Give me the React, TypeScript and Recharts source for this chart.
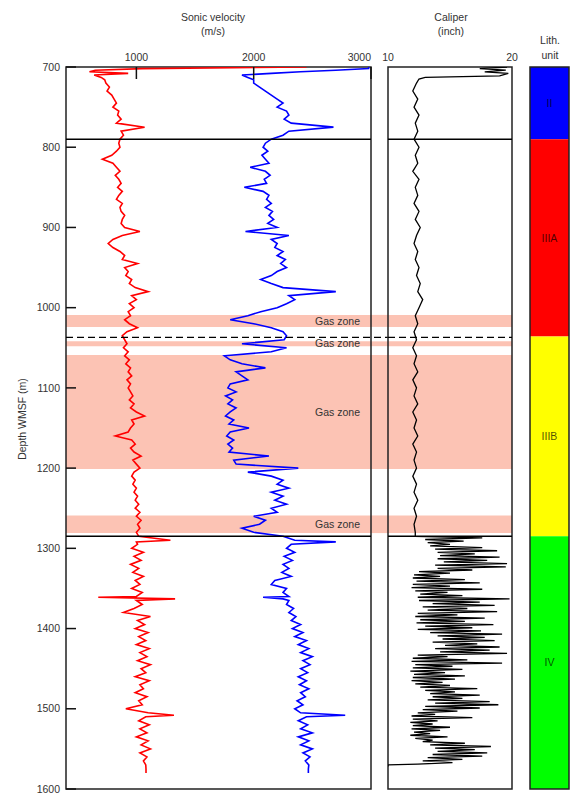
import React from "react";
import {
  ComposedChart,
  Line,
  XAxis,
  YAxis,
  ReferenceArea,
  ReferenceLine,
} from "recharts";

// sonic log samples (depth in m WMSF)
const depth = [
  700, 702, 704, 706, 708, 710, 713, 716, 720,
  725, 730, 735, 740, 745, 750, 755, 760, 765, 770,
  775, 780, 785, 790, 795, 800, 805, 810, 815, 820,
  825, 830, 835, 840, 845, 850, 855, 860, 865, 870,
  875, 880, 885, 890, 895, 900, 905, 910, 915, 920,
  925, 930, 935, 940, 945, 950, 955, 960, 965, 970,
  975, 980, 985, 990, 995, 1000, 1005, 1010, 1015, 1020,
  1025, 1030, 1035, 1040, 1045, 1050, 1055, 1060, 1065, 1070,
  1075, 1080, 1085, 1090, 1095, 1100, 1105, 1110, 1115, 1120,
  1125, 1130, 1135, 1140, 1145, 1150, 1155, 1160, 1165, 1170,
  1175, 1180, 1185, 1190, 1195, 1200, 1205, 1210, 1215, 1220,
  1225, 1230, 1235, 1240, 1245, 1250, 1255, 1260, 1265, 1270,
  1275, 1280, 1285,
  1290, 1292, 1295, 1300, 1305, 1310, 1315, 1320, 1325, 1330,
  1335, 1340, 1345, 1350, 1355, 1360, 1361, 1363, 1365, 1370,
  1375, 1380, 1385, 1390, 1395, 1400, 1405, 1410, 1415, 1420,
  1425, 1430, 1435, 1440, 1445, 1450, 1455, 1460, 1465, 1470,
  1475, 1480, 1485, 1490, 1495, 1500, 1505, 1508, 1510, 1515,
  1520, 1525, 1530, 1535, 1540, 1545, 1550, 1555, 1560, 1565,
  1570, 1575, 1580,
];

// red curve (m/s)
const vs = [
  2450, 1050, 650, 600, 930, 640, 700, 730, 740,
  770, 750, 790, 810, 830, 800, 850, 840, 870, 830,
  1070, 870, 890, 860, 850, 860, 830, 790, 710, 800,
  830, 860, 820, 850, 870, 840, 880, 850, 830, 880,
  860, 870, 900, 880, 870, 900, 1030, 880, 800, 760,
  800, 860, 900, 880, 1010, 900, 930, 910, 960, 940,
  990, 1100, 960, 1000, 940, 980, 930, 950, 900, 940,
  1010, 920, 880, 900, 920, 890, 930, 900, 940, 910,
  950, 930, 960, 920, 950, 930, 950, 970, 940, 980,
  950, 1000, 1070, 960, 980, 950, 930, 820, 960, 990,
  950, 980, 1040, 970, 1000, 1030, 980, 960, 990, 970,
  1000, 980, 1010, 990, 1020, 990, 1030, 1000, 1040, 1010,
  1030, 1000, 1020,
  1290, 1000, 1010, 960, 1060, 980, 1040, 950, 1020, 970,
  1060, 990, 1030, 960, 1050, 1000, 675, 1330, 1000, 1050,
  980, 890, 1120, 1010, 1070, 990, 1100, 1020, 1080, 1000,
  1110, 1030, 1090, 1010, 1120, 1040, 1080, 990, 1110, 1030,
  1060, 990, 1090, 1020, 1050, 910, 1100, 1320, 1080, 1020,
  1110, 1030, 1090, 1000, 1100, 1040, 1120, 1030, 1090, 1060,
  1080, 1082, 1082,
];

// blue curve (m/s)
const vp = [
  2980, 2980, 2700, 2400, 2150, 1900, 1950, 2000, 2000,
  2050, 2100, 2150, 2200, 2250, 2200, 2280, 2300, 2260, 2320,
  2680, 2300, 2250, 2150, 2100, 2080, 2120, 2070, 2100, 2130,
  1970, 2100, 2140, 2090, 2110, 1920, 2080, 2130, 2110, 2150,
  2100, 2160, 2130, 2170, 2120, 2200, 1930, 2300, 2150, 2200,
  2180, 2250, 2200, 2270, 2230, 2280, 2200, 2150, 2060, 2150,
  2250, 2700, 2300, 2350, 2280, 2200, 2060, 1950, 1800, 2000,
  2150, 2250, 2280, 2260, 1900, 2280, 2150, 1750, 1800, 1900,
  2100, 1850, 1900, 1950, 1800, 1780, 1850, 1760, 1820, 1780,
  1850, 1800, 1760, 1830, 1790, 1960, 1800, 1770, 1830, 1780,
  1820, 1790, 2130, 1830, 1850, 2380, 1950, 2150, 2250, 2200,
  2300, 2150, 2250, 2180, 2280, 2150, 2200, 2000, 2100, 2050,
  1900, 2000, 2250,
  2350, 2700, 2320, 2280, 2350, 2260, 2330, 2250, 2300, 2240,
  2320, 2180, 2150, 2280, 2250, 2300, 2080, 2250, 2300, 2280,
  2340, 2300, 2360, 2320, 2400, 2330, 2420, 2350, 2450, 2380,
  2470, 2400, 2500, 2420, 2480, 2400, 2460, 2380, 2450, 2390,
  2470, 2400, 2440, 2370, 2420, 2350, 2400, 2780, 2450, 2380,
  2460, 2400, 2500, 2380, 2470, 2400, 2500, 2420, 2480, 2440,
  2470, 2466, 2466,
];

// caliper (inch) as [depth, value]
const caliperTop = [
  [700, 19.6], [702, 17.4], [704, 19.5], [706, 17.8], [708, 19.7],
  [711, 19.0], [713, 13.0], [715, 12.5],
];
const caliperMid = [
  [720, 12.3], [730, 12.0], [740, 12.4], [750, 12.1], [760, 12.5],
  [770, 12.2], [780, 12.4], [790, 12.1], [800, 12.5], [810, 12.2],
  [820, 12.4], [830, 12.0], [840, 12.5], [850, 12.2], [860, 12.4],
  [870, 12.1], [880, 12.5], [890, 12.2], [900, 12.6], [910, 12.3],
  [920, 12.1], [930, 12.4], [940, 12.2], [950, 12.5], [960, 12.3],
  [970, 12.6], [980, 12.4], [990, 12.8], [1000, 12.5], [1010, 12.2],
  [1020, 12.4], [1030, 12.1], [1040, 12.3], [1050, 12.0], [1060, 12.3],
  [1070, 12.1], [1080, 12.4], [1090, 12.0], [1100, 12.3], [1110, 12.1],
  [1120, 12.4], [1130, 12.0], [1140, 12.3], [1150, 12.1], [1160, 12.4],
  [1170, 12.0], [1180, 12.3], [1190, 12.1], [1200, 12.3], [1210, 12.0],
  [1220, 12.3], [1230, 12.1], [1240, 12.4], [1250, 12.1], [1260, 12.3],
  [1270, 12.1], [1280, 12.2],
];
const caliperLow = [
  [1285, 12.2], [1287, 17.6], [1289, 13.0], [1291, 16.1], [1293, 13.2],
  [1295, 15.0], [1297, 13.4], [1299, 17.6], [1301, 13.8], [1303, 18.8],
  [1305, 14.0], [1307, 17.0], [1309, 14.2], [1311, 19.0], [1313, 14.0],
  [1315, 18.0], [1317, 14.5], [1319, 19.6], [1321, 13.8], [1323, 19.5],
  [1325, 14.0], [1327, 16.8], [1329, 12.5], [1331, 15.0], [1333, 12.1],
  [1335, 14.2], [1337, 12.0], [1339, 16.2], [1341, 12.3], [1343, 17.4],
  [1345, 12.0], [1347, 15.0], [1349, 11.9], [1351, 17.6], [1353, 12.2],
  [1355, 14.8], [1357, 12.6], [1359, 16.0], [1361, 12.4], [1363, 19.8],
  [1365, 12.5], [1367, 17.4], [1369, 13.6], [1371, 18.6], [1373, 12.8],
  [1375, 16.4], [1377, 13.2], [1379, 18.8], [1381, 12.4], [1383, 15.6],
  [1385, 12.2], [1387, 17.8], [1389, 12.6], [1391, 16.2], [1393, 12.3],
  [1395, 18.5], [1397, 13.0], [1399, 16.8], [1401, 12.4], [1403, 17.5],
  [1405, 13.4], [1407, 19.2], [1409, 14.0], [1411, 17.8], [1413, 14.4],
  [1415, 18.6], [1417, 13.6], [1419, 17.2], [1421, 14.6], [1423, 19.0],
  [1425, 13.8], [1427, 18.2], [1429, 14.2], [1431, 19.6], [1433, 12.4],
  [1435, 14.8], [1437, 12.0], [1439, 16.4], [1441, 11.9], [1443, 19.2],
  [1445, 12.2], [1447, 15.2], [1449, 12.0], [1451, 16.0], [1453, 11.8],
  [1455, 14.6], [1457, 12.1], [1459, 16.2], [1461, 12.0], [1463, 15.4],
  [1465, 11.9], [1467, 14.4], [1469, 12.2], [1471, 15.0], [1473, 12.6],
  [1475, 17.2], [1477, 13.0], [1479, 15.4], [1481, 13.4], [1483, 17.4],
  [1485, 13.6], [1487, 16.0], [1489, 13.2], [1491, 18.2], [1493, 13.8],
  [1495, 18.9], [1497, 13.0], [1499, 17.4], [1501, 12.8], [1503, 15.6],
  [1505, 12.4], [1507, 13.8], [1509, 11.9], [1511, 16.8], [1513, 12.0],
  [1515, 14.0], [1517, 11.8], [1519, 13.6], [1521, 12.0], [1523, 15.0],
  [1525, 11.9], [1527, 14.2], [1529, 12.1], [1531, 13.4], [1533, 11.8],
  [1535, 14.8], [1537, 12.2], [1539, 13.6], [1541, 12.8], [1543, 16.2],
  [1545, 13.4], [1547, 18.3], [1549, 13.8], [1551, 17.0], [1553, 14.0],
  [1555, 18.0], [1557, 13.6], [1559, 17.6], [1561, 13.2], [1563, 16.0],
  [1565, 12.8], [1567, 15.2], [1569, 12.4], [1570, 10.0], [1572, 10.0],
];

// zones and units
const gasTop = [1009, 1042, 1059, 1259];
const gasBottom = [1024, 1048, 1201, 1281];
const dashedDepth = 1037;
const unitBreaks = [790, 1285];
const lithNames = ["II", "IIIA", "IIIB", "IV"];
const lithTop = [700, 790, 1036, 1285];
const lithBottom = [790, 1036, 1285, 1600];
const lithColors = ["#0000ff", "#ff0000", "#ffff00", "#00ff00"];

const depthTicks = [700, 800, 900, 1000, 1100, 1200, 1300, 1400, 1500, 1600];
const sonicTicks = [1000, 2000, 3000];
const caliperTicks = [10, 20];

const sonicData = depth.map((d, i) => ({ depth: d, vs: vs[i], vp: vp[i] }));
const caliperData = [...caliperTop, ...caliperMid, ...caliperLow].map(
  ([d, c]) => ({ depth: d, cal: c })
);
const lithData = [...lithTop, 1600].map((d) => ({ depth: d, pos: 0.5 }));

const FONT = "'Liberation Sans', Arial, Helvetica, sans-serif";
const TXT = "#333";
const GAS = "#fcc3b4";
const FS = 10.5;

const DepthTick = (props: any) => {
  const { x, y, payload } = props;
  return (
    <g>
      <text x={x} y={y} dy={3.7} textAnchor="end" fontSize={FS} fill={TXT}>
        {payload.value}
      </text>
      <line x1={x + 6} x2={x + 16} y1={y} y2={y} stroke="#111" strokeWidth={1.5} />
    </g>
  );
};

const SonicTick = (props: any) => {
  const { x, y, payload } = props;
  const last = payload.value === sonicTicks[sonicTicks.length - 1];
  return (
    <g>
      <text x={x} y={y} textAnchor={last ? "end" : "middle"} fontSize={FS} fill={TXT}>
        {payload.value}
      </text>
      <line x1={x} x2={x} y1={y + 6} y2={y + 18} stroke="#111" strokeWidth={1.5} />
    </g>
  );
};

const CaliperTick = (props: any) => {
  const { x, y, payload } = props;
  return (
    <text x={x} y={y} textAnchor="middle" fontSize={FS} fill={TXT}>
      {payload.value}
    </text>
  );
};

const DepthTitle = (props: any) => {
  const vb = props.viewBox || { x: 0, y: 67, width: 66, height: 722 };
  return (
    <text
      transform={`translate(${vb.x + 22}, ${vb.y + vb.height / 2 - 9}) rotate(-90)`}
      textAnchor="middle"
      dominantBaseline="central"
      fontSize={FS}
      fill={TXT}
    >
      Depth WMSF (m)
    </text>
  );
};

const header: React.CSSProperties = {
  position: "absolute",
  textAlign: "center",
  fontSize: FS,
  lineHeight: "14px",
  color: TXT,
  width: 120,
};

export default function App() {
  return (
    <div
      style={{
        position: "absolute",
        left: 0,
        top: 0,
        width: 571,
        height: 793,
        background: "#fff",
        fontFamily: FONT,
        overflow: "hidden",
      }}
    >
      <div style={{ ...header, left: 213 - 60, top: 10 }}>
        Sonic velocity
        <br />
        (m/s)
      </div>
      <div style={{ ...header, left: 451 - 60, top: 10 }}>
        Caliper
        <br />
        (inch)
      </div>
      <div style={{ ...header, left: 550 - 60, top: 33, lineHeight: "15px" }}>
        Lith.
        <br />
        unit
      </div>

      {/* sonic velocity panel (svg reaches into the gap so the bands join) */}
      <div style={{ position: "absolute", left: 0, top: 0 }}>
        <ComposedChart
          layout="vertical"
          width={390}
          height={793}
          data={sonicData}
          margin={{ top: 47, right: 19, bottom: 4, left: 0 }}
        >
          <XAxis
            type="number"
            orientation="top"
            domain={[400, 3000]}
            ticks={sonicTicks}
            interval={0}
            height={20}
            tickSize={0}
            tickMargin={6}
            axisLine={false}
            tickLine={false}
            allowDataOverflow
            tick={(p: any) => <SonicTick {...p} />}
          />
          <YAxis
            type="number"
            dataKey="depth"
            domain={[700, 1600]}
            ticks={depthTicks}
            interval={0}
            width={66}
            tickSize={0}
            tickMargin={6}
            axisLine={false}
            tickLine={false}
            allowDataOverflow
            tick={(p: any) => <DepthTick {...p} />}
            label={{ content: (p: any) => <DepthTitle {...p} /> }}
          />
          {gasTop.map((t, i) => (
            <ReferenceArea
              key={"g" + i}
              y1={t}
              y2={gasBottom[i]}
              fill={GAS}
              fillOpacity={1}
              stroke="none"
              label={{
                value: "Gas zone",
                position: "insideRight",
                offset: 11,
                fill: TXT,
                fontSize: FS,
              }}
            />
          ))}
          {gasTop.map((t, i) => (
            <ReferenceArea
              key={"gx" + i}
              x1={3000}
              x2={3145}
              y1={t}
              y2={gasBottom[i]}
              fill={GAS}
              fillOpacity={1}
              stroke="none"
              ifOverflow="visible"
            />
          ))}
          <Line
            dataKey="vs"
            type="linear"
            stroke="#ff0000"
            strokeWidth={1.6}
            dot={false}
            isAnimationActive={false}
          />
          <Line
            dataKey="vp"
            type="linear"
            stroke="#0000ff"
            strokeWidth={1.6}
            dot={false}
            isAnimationActive={false}
          />
          {unitBreaks.map((d) => (
            <ReferenceLine key={"b" + d} y={d} stroke="#000" strokeWidth={1.5} />
          ))}
          <ReferenceLine
            segment={[
              { x: 400, y: dashedDepth },
              { x: 3145, y: dashedDepth },
            ]}
            stroke="#000"
            strokeWidth={1.3}
            strokeDasharray="7 4"
            ifOverflow="visible"
          />
          <ReferenceArea
            x1={400}
            x2={3000}
            y1={700}
            y2={1600}
            fill="none"
            stroke="#222"
            strokeWidth={1.5}
          />
        </ComposedChart>
      </div>

      {/* caliper panel */}
      <div style={{ position: "absolute", left: 380, top: 0 }}>
        <ComposedChart
          layout="vertical"
          width={140}
          height={793}
          data={caliperData}
          margin={{ top: 47, right: 8, bottom: 4, left: 8 }}
        >
          <XAxis
            type="number"
            orientation="top"
            domain={[10, 20]}
            ticks={caliperTicks}
            interval={0}
            height={20}
            tickSize={0}
            tickMargin={6}
            axisLine={false}
            tickLine={false}
            allowDataOverflow
            tick={(p: any) => <CaliperTick {...p} />}
          />
          <YAxis
            type="number"
            dataKey="depth"
            domain={[700, 1600]}
            hide
            allowDataOverflow
          />
          {gasTop.map((t, i) => (
            <ReferenceArea
              key={"c" + i}
              y1={t}
              y2={gasBottom[i]}
              fill={GAS}
              fillOpacity={1}
              stroke="none"
            />
          ))}
          <Line
            dataKey="cal"
            type="linear"
            stroke="#000"
            strokeWidth={1.3}
            dot={false}
            isAnimationActive={false}
          />
          {unitBreaks.map((d) => (
            <ReferenceLine key={"cb" + d} y={d} stroke="#000" strokeWidth={1.5} />
          ))}
          <ReferenceLine
            y={dashedDepth}
            stroke="#000"
            strokeWidth={1.3}
            strokeDasharray="7 4"
          />
          <ReferenceArea
            x1={10}
            x2={20}
            y1={700}
            y2={1600}
            fill="none"
            stroke="#222"
            strokeWidth={1.5}
          />
        </ComposedChart>
      </div>

      {/* lithologic units */}
      <div style={{ position: "absolute", left: 522, top: 0 }}>
        <ComposedChart
          layout="vertical"
          width={49}
          height={793}
          data={lithData}
          margin={{ top: 67, right: 2, bottom: 4, left: 8 }}
        >
          <XAxis type="number" domain={[0, 1]} hide allowDataOverflow />
          <YAxis
            type="number"
            dataKey="depth"
            domain={[700, 1600]}
            hide
            allowDataOverflow
          />
          <Line
            dataKey="pos"
            stroke="none"
            dot={false}
            isAnimationActive={false}
          />
          {lithNames.map((n, i) => (
            <ReferenceArea
              key={n}
              x1={0}
              x2={1}
              y1={lithTop[i]}
              y2={lithBottom[i]}
              fill={lithColors[i]}
              fillOpacity={1}
              stroke="none"
              label={{
                value: n,
                position: "center",
                fill: "rgba(0,0,0,0.7)",
                fontSize: FS,
              }}
            />
          ))}
          <ReferenceArea
            x1={0}
            x2={1}
            y1={700}
            y2={1600}
            fill="none"
            stroke="#222"
            strokeWidth={1.5}
          />
        </ComposedChart>
      </div>
    </div>
  );
}
